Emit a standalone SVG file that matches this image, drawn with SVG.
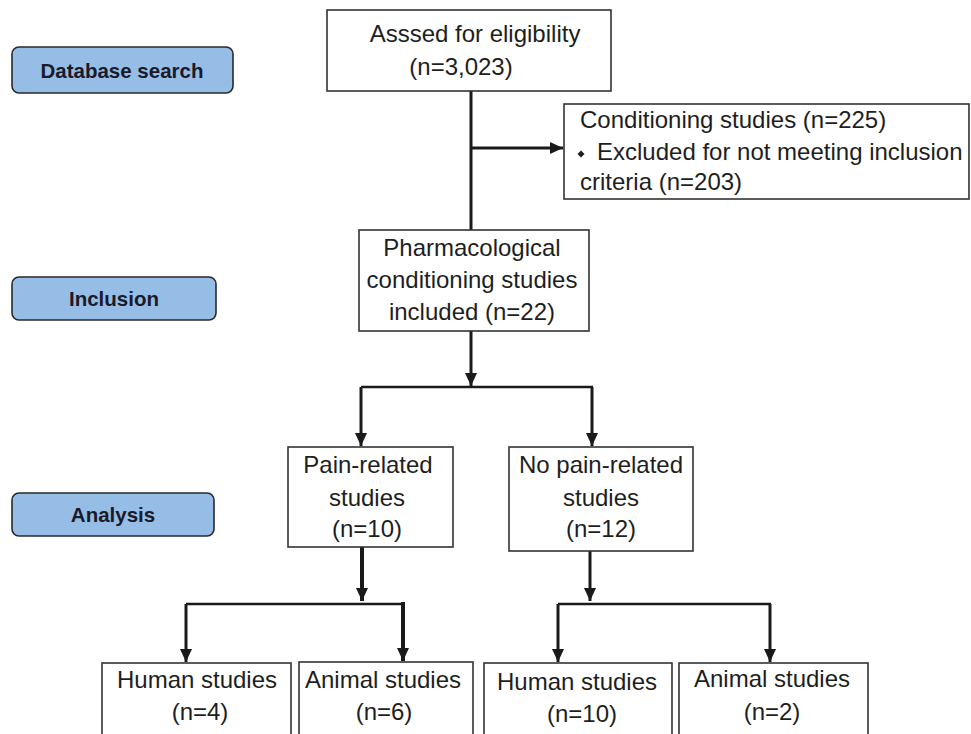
<svg xmlns="http://www.w3.org/2000/svg" width="971" height="734" viewBox="0 0 971 734">
<style>
.box{fill:#fff;stroke:#333;stroke-width:1.6}
.lab{fill:#95bde6;stroke:#2a2a2a;stroke-width:1.6}
.t{font-family:"Liberation Sans",Arial,sans-serif;font-size:24px;fill:#1e1e1e}
.c{text-anchor:middle}
.lt{font-family:"Liberation Sans",Arial,sans-serif;font-size:20.5px;font-weight:bold;fill:#1a1a2a;text-anchor:middle}
.ln{stroke:#1a1a1a;stroke-width:3;fill:none}
.thick{stroke-width:4}
.bar{stroke-width:2.5}
</style>
<defs>
<marker id="ah" markerUnits="userSpaceOnUse" markerWidth="14" markerHeight="14" viewBox="0 0 14 14" refX="13" refY="7" orient="auto">
<path d="M0,1 L13,7 L0,13 Z" fill="#1a1a1a"/>
</marker>
</defs>
<rect width="971" height="734" fill="#fff"/>

<g id="label-database">
<rect class="lab" x="12" y="47" width="221" height="46" rx="7"/>
<text class="lt" x="122" y="78">Database search</text>
</g>
<g id="label-inclusion">
<rect class="lab" x="12" y="277" width="204" height="43" rx="7"/>
<text class="lt" x="114" y="306">Inclusion</text>
</g>
<g id="label-analysis">
<rect class="lab" x="12" y="493" width="202" height="43" rx="7"/>
<text class="lt" x="113" y="522">Analysis</text>
</g>

<g id="connectors">
<line class="ln" x1="471" y1="91" x2="471" y2="230"/>
<line class="ln" x1="471" y1="148" x2="563" y2="148" marker-end="url(#ah)"/>
<line class="ln" x1="471" y1="331" x2="471" y2="386" marker-end="url(#ah)"/>
<line class="ln bar" x1="361" y1="387" x2="593" y2="387"/>
<line class="ln" x1="361" y1="387" x2="361" y2="446" marker-end="url(#ah)"/>
<line class="ln" x1="592" y1="387" x2="592" y2="446" marker-end="url(#ah)"/>
<line class="ln thick" x1="362" y1="547" x2="362" y2="601" marker-end="url(#ah)"/>
<line class="ln bar" x1="186" y1="604" x2="404" y2="604"/>
<line class="ln" x1="186" y1="604" x2="186" y2="662" marker-end="url(#ah)"/>
<line class="ln thick" x1="403" y1="602" x2="403" y2="661" marker-end="url(#ah)"/>
<line class="ln" x1="590" y1="551" x2="590" y2="601" marker-end="url(#ah)"/>
<line class="ln bar" x1="558" y1="604" x2="771" y2="604"/>
<line class="ln" x1="558" y1="604" x2="558" y2="662" marker-end="url(#ah)"/>
<line class="ln" x1="770" y1="604" x2="770" y2="662" marker-end="url(#ah)"/>
</g>

<g id="assessed">
<rect class="box" x="327" y="10" width="284" height="81"/>
<text class="t c" x="475" y="42">Asssed for eligibility</text>
<text class="t c" x="461" y="75">(n=3,023)</text>
</g>
<g id="conditioning">
<rect class="box" x="564" y="104" width="405" height="95"/>
<text class="t" x="580" y="128">Conditioning studies (n=225)</text>
<path d="M581,150.5 L584.5,154 L581,157.5 L577.5,154 Z" fill="#1e1e1e"/>
<text class="t" x="597" y="160">Excluded for not meeting inclusion</text>
<text class="t" x="580" y="190">criteria (n=203)</text>
</g>
<g id="pharmacological">
<rect class="box" x="359" y="230" width="230" height="101"/>
<text class="t c" x="472" y="256">Pharmacological</text>
<text class="t c" x="472" y="288">conditioning studies</text>
<text class="t c" x="472" y="320">included (n=22)</text>
</g>
<g id="pain">
<rect class="box" x="288" y="447" width="165" height="100"/>
<text class="t c" x="368" y="473">Pain-related</text>
<text class="t c" x="367" y="506">studies</text>
<text class="t c" x="367" y="537">(n=10)</text>
</g>
<g id="nopain">
<rect class="box" x="509" y="447" width="184" height="104"/>
<text class="t c" x="601" y="473">No pain-related</text>
<text class="t c" x="601" y="506">studies</text>
<text class="t c" x="601" y="537">(n=12)</text>
</g>
<g id="human1">
<rect class="box" x="102" y="663" width="189" height="80"/>
<text class="t c" x="197" y="688">Human studies</text>
<text class="t c" x="200" y="720">(n=4)</text>
</g>
<g id="animal1">
<rect class="box" x="299" y="662" width="174" height="80"/>
<text class="t c" x="383" y="688">Animal studies</text>
<text class="t c" x="384" y="720">(n=6)</text>
</g>
<g id="human2">
<rect class="box" x="484" y="663" width="188" height="80"/>
<text class="t c" x="577" y="690">Human studies</text>
<text class="t c" x="582" y="722">(n=10)</text>
</g>
<g id="animal2">
<rect class="box" x="679" y="663" width="189" height="80"/>
<text class="t c" x="772" y="687">Animal studies</text>
<text class="t c" x="772" y="720">(n=2)</text>
</g>
</svg>
